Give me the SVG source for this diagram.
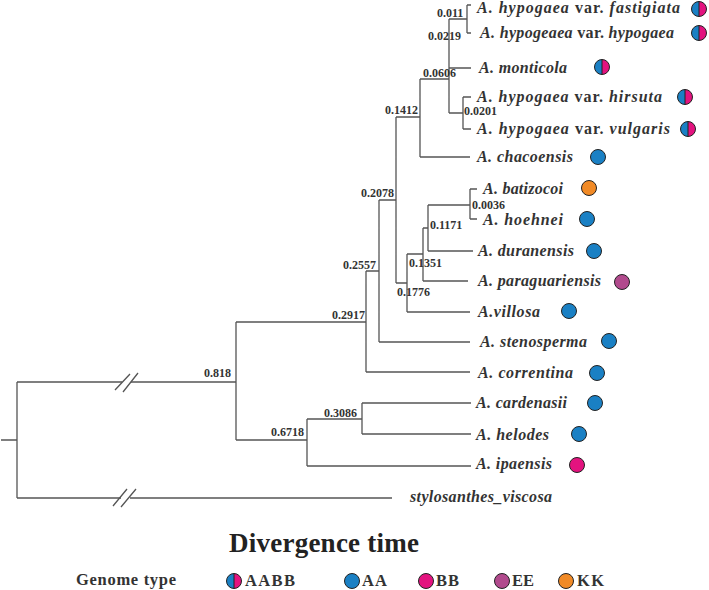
<svg xmlns="http://www.w3.org/2000/svg" xmlns:xlink="http://www.w3.org/1999/xlink" width="709" height="590" viewBox="0 0 709 590">
<style>
.br{fill:none;stroke:#555;stroke-width:1.3}
.lf{font-family:"Liberation Serif","Times New Roman",serif;font-weight:bold;font-style:italic;font-size:16px;fill:#333}
.up{font-style:normal}
.num{font-family:"Liberation Serif","Times New Roman",serif;font-weight:bold;font-size:12px;fill:#333}
.ttl{font-family:"Liberation Serif","Times New Roman",serif;font-weight:bold;font-size:27px;fill:#222}
.lg{font-family:"Liberation Serif","Times New Roman",serif;font-weight:bold;font-size:16.5px;fill:#333}
.ring{stroke:#222;stroke-width:1}
</style>
<defs>
<g id="c-aabb">
<path d="M0,-7.5 A7.5,7.5 0 0 0 0,7.5 Z" fill="#1a80c4"/>
<path d="M0,-7.5 A7.5,7.5 0 0 1 0,7.5 Z" fill="#e3137f"/>
<circle r="7.5" fill="none" class="ring"/>
<line x1="0" y1="-7.5" x2="0" y2="7.5" stroke="#222" stroke-width="1"/>
</g>
<circle id="c-aa" r="7.5" fill="#1a80c4" class="ring"/>
<circle id="c-bb" r="7.5" fill="#e3137f" class="ring"/>
<circle id="c-ee" r="7.5" fill="#b14a8d" class="ring"/>
<circle id="c-kk" r="7.5" fill="#f18a26" class="ring"/>
</defs>
<rect width="709" height="590" fill="#fff"/>
<g id="connectors">
<path class="br" d="M1,440H17 M17,382V498 M17,382H122 M131,382H236 M17,498H121 M130,498H392
M236,322V440 M236,322H366 M366,271V372 M366,372H470 M366,271H379 M379,200V342 M379,342H470 M379,200H396
M396,117V283 M396,117H420 M420,79V157 M420,157H470 M420,79H449 M449,19V113 M449,19H467 M467,5V33 M467,5H471 M467,33H471 M449,68H471
M449,113H463 M463,97V129 M463,97H471 M463,129H471
M396,283H407 M407,254V312 M407,312H470 M407,254H423 M423,228V281 M423,281H468 M423,228H428 M428,205V251 M428,251H473 M428,205H470 M470,189V219 M470,189H477 M470,219H477
M236,440H307 M307,419V466 M307,466H471 M307,419H362 M362,403V434 M362,403H471 M362,434H471"/>
<path class="br" d="M115,390L130,374 M123,392L138,373 M113,506L127,489 M121,507L136,489"/>
</g>
<g id="branch-labels">
<text class="num" x="437" y="17">0.011</text>
<text class="num" x="428" y="40">0.0219</text>
<text class="num" x="423" y="77">0.0606</text>
<text class="num" x="385" y="114">0.1412</text>
<text class="num" x="464" y="115">0.0201</text>
<text class="num" x="361" y="197">0.2078</text>
<text class="num" x="472" y="209">0.0036</text>
<text class="num" x="430" y="229">0.1171</text>
<text class="num" x="409" y="267">0.1351</text>
<text class="num" x="397" y="296">0.1776</text>
<text class="num" x="343" y="269">0.2557</text>
<text class="num" x="332" y="319">0.2917</text>
<text class="num" x="204" y="377">0.818</text>
<text class="num" x="271" y="436">0.6718</text>
<text class="num" x="324" y="417">0.3086</text>
</g>
<g id="leaf-fastigiata"><text class="lf" x="477" y="12.5" textLength="203">A. hypogaea <tspan class="up">var.</tspan> fastigiata</text><use xlink:href="#c-aabb" x="699" y="9"/></g>
<g id="leaf-hypogaea"><text class="lf" x="480" y="38" textLength="194">A. hypogeaea <tspan class="up">var.</tspan> hypogaea</text><use xlink:href="#c-aabb" x="699" y="33"/></g>
<g id="leaf-monticola"><text class="lf" x="479" y="73" textLength="88">A. monticola</text><use xlink:href="#c-aabb" x="602" y="67"/></g>
<g id="leaf-hirsuta"><text class="lf" x="477" y="102" textLength="185">A. hypogaea <tspan class="up">var.</tspan> hirsuta</text><use xlink:href="#c-aabb" x="685" y="97"/></g>
<g id="leaf-vulgaris"><text class="lf" x="477" y="134" textLength="193">A. hypogaea <tspan class="up">var.</tspan> vulgaris</text><use xlink:href="#c-aabb" x="688" y="129"/></g>
<g id="leaf-chacoensis"><text class="lf" x="477" y="162" textLength="96">A. chacoensis</text><use xlink:href="#c-aa" x="598" y="157"/></g>
<g id="leaf-batizocoi"><text class="lf" x="483" y="194" textLength="80">A. batizocoi</text><use xlink:href="#c-kk" x="589" y="188"/></g>
<g id="leaf-hoehnei"><text class="lf" x="483" y="225" textLength="80">A. hoehnei</text><use xlink:href="#c-aa" x="587" y="219"/></g>
<g id="leaf-duranensis"><text class="lf" x="478" y="256" textLength="96">A. duranensis</text><use xlink:href="#c-aa" x="594" y="251"/></g>
<g id="leaf-paraguariensis"><text class="lf" x="478" y="286" textLength="123">A. paraguariensis</text><use xlink:href="#c-ee" x="622" y="282"/></g>
<g id="leaf-villosa"><text class="lf" x="478" y="317" textLength="62">A.villosa</text><use xlink:href="#c-aa" x="569" y="311"/></g>
<g id="leaf-stenosperma"><text class="lf" x="480" y="347" textLength="107">A. stenosperma</text><use xlink:href="#c-aa" x="609" y="341"/></g>
<g id="leaf-correntina"><text class="lf" x="478" y="378" textLength="95">A. correntina</text><use xlink:href="#c-aa" x="597" y="373"/></g>
<g id="leaf-cardenasii"><text class="lf" x="476" y="408" textLength="91">A. cardenasii</text><use xlink:href="#c-aa" x="595" y="403"/></g>
<g id="leaf-helodes"><text class="lf" x="476" y="440" textLength="73">A. helodes</text><use xlink:href="#c-aa" x="579" y="434"/></g>
<g id="leaf-ipaensis"><text class="lf" x="476" y="469" textLength="76">A. ipaensis</text><use xlink:href="#c-bb" x="577" y="465"/></g>
<g id="leaf-stylosanthes"><text class="lf" x="410" y="502" textLength="142">stylosanthes_viscosa</text></g>
<g id="title"><text class="ttl" x="229" y="552" textLength="190">Divergence time</text></g>
<g id="legend">
<text class="lg" x="76" y="585" textLength="100">Genome type</text>
<use xlink:href="#c-aabb" x="234" y="581"/><text class="lg" x="245" y="586" textLength="50">AABB</text>
<use xlink:href="#c-aa" x="352" y="581"/><text class="lg" x="362" y="586" textLength="25">AA</text>
<use xlink:href="#c-bb" x="426" y="581"/><text class="lg" x="436" y="586" textLength="23">BB</text>
<use xlink:href="#c-ee" x="502" y="581"/><text class="lg" x="512" y="586" textLength="22">EE</text>
<use xlink:href="#c-kk" x="566" y="581"/><text class="lg" x="577" y="586" textLength="27">KK</text>
</g>
</svg>
